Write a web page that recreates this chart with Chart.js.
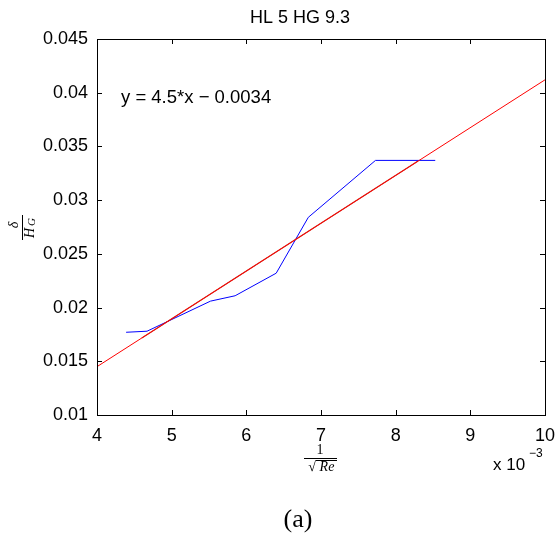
<!DOCTYPE html>
<html>
<head>
<meta charset="utf-8">
<script src="https://cdn.jsdelivr.net/npm/chart.js@4"></script>
<style>
  html, body { margin: 0; padding: 0; background: #fff; }
  #wrap { width: 558px; height: 542px; }
</style>
</head>
<body>
<div id="wrap"><canvas id="chart" width="558" height="542"></canvas></div>
<script>
// ---- data (x in units of 1e-3) ----
const measX = [4.39, 4.67, 5.52, 5.85, 6.40, 6.83, 7.73, 8.53];
const measY = [0.0177, 0.0178, 0.0206, 0.0211, 0.0232, 0.0284, 0.0337, 0.0337];
const fitX = [4, 10];
const fitY = [0.0145, 0.0412];
const fitDarkX = [4.6, 8.3];
const fitDarkY = [0.01717, 0.03364];
const xTicks = ['4', '5', '6', '7', '8', '9', '10'];
const yTicks = ['0.01', '0.015', '0.02', '0.025', '0.03', '0.035', '0.04', '0.045'];

const FONT = '"Liberation Sans", Arial, Helvetica, sans-serif';
const SERIF = '"Liberation Serif", "DejaVu Serif", serif';

const pts = (xs, ys) => xs.map((x, i) => ({ x, y: ys[i] }));

const frame = {
  id: 'frame',
  afterDraw(chart) {
    const { ctx, chartArea: a, scales: { x, y } } = chart;
    ctx.save();
    ctx.strokeStyle = '#000';
    ctx.lineWidth = 1;
    ctx.strokeRect(Math.round(a.left) + 0.5, Math.round(a.top) + 0.5,
                   Math.round(a.right - a.left), Math.round(a.bottom - a.top));
    // inward ticks on all four sides
    const L = 5;
    ctx.beginPath();
    x.ticks.forEach(t => {
      const p = Math.round(x.getPixelForValue(t.value)) + 0.5;
      ctx.moveTo(p, a.bottom); ctx.lineTo(p, a.bottom - L);
      ctx.moveTo(p, a.top); ctx.lineTo(p, a.top + L);
    });
    y.ticks.forEach(t => {
      const p = Math.round(y.getPixelForValue(t.value)) + 0.5;
      ctx.moveTo(a.left, p); ctx.lineTo(a.left + L, p);
      ctx.moveTo(a.right, p); ctx.lineTo(a.right - L, p);
    });
    ctx.stroke();

    ctx.fillStyle = '#000';
    ctx.textBaseline = 'middle';
    // title
    ctx.font = '18px ' + FONT;
    ctx.textAlign = 'center';
    ctx.fillText('HL 5 HG 9.3', 300, 18);
    // fit annotation
    ctx.textAlign = 'left';
    ctx.font = '18.5px ' + FONT;
    ctx.fillText('y = 4.5*x \u2212 0.0034', 121, 98);
    // exponent
    ctx.font = '17px ' + FONT;
    ctx.fillText('x 10', 493, 465);
    ctx.font = '12px ' + FONT;
    ctx.fillText('\u22123', 529, 454);

    // x label: 1 / sqrt(Re)
    ctx.textAlign = 'center';
    ctx.font = '14px ' + SERIF;
    ctx.fillText('1', 320, 450);
    ctx.fillRect(304, 458, 33, 1);
    ctx.font = 'italic 14px ' + SERIF;
    ctx.fillText('Re', 327, 467);
    ctx.font = '14px ' + SERIF;
    ctx.fillText('\u221A', 312, 467);
    ctx.fillRect(316, 460, 21, 1);

    // y label: delta / H_G (rotated)
    ctx.save();
    ctx.translate(22, 228);
    ctx.rotate(-Math.PI / 2);
    ctx.font = 'italic 14px ' + SERIF;
    ctx.fillText('\u03B4', 3, -8);
    ctx.fillRect(-12, 0, 25, 1);
    ctx.fillText('H', -5, 8);
    ctx.font = 'italic 11px ' + SERIF;
    ctx.fillText('G', 6, 10);
    ctx.restore();

    // panel caption
    ctx.font = '26px ' + SERIF;
    ctx.fillText('(a)', 298, 520);
    ctx.restore();
  }
};

new Chart(document.getElementById('chart'), {
  type: 'line',
  data: {
    datasets: [
      { data: pts(fitX, fitY), borderColor: '#ff0000', borderWidth: 1 },
      { data: pts(fitDarkX, fitDarkY), borderColor: 'rgba(170,30,10,0.85)', borderWidth: 1.2 },
      { data: pts(measX, measY), borderColor: '#0000ff', borderWidth: 1 },
    ],
  },
  options: {
    responsive: false,
    animation: false,
    devicePixelRatio: 1,
    elements: { point: { radius: 0 }, line: { tension: 0 } },
    layout: { padding: { top: 39, right: 13, left: 0, bottom: 0 } },
    plugins: { legend: { display: false }, tooltip: { enabled: false } },
    scales: {
      x: {
        type: 'linear', min: 4, max: 10,
        grid: { display: false, drawTicks: false },
        border: { display: false },
        ticks: {
          stepSize: 1, padding: 10, color: '#000', maxRotation: 0,
          font: { family: FONT, size: 18 },
          callback: (v, i) => xTicks[i],
        },
        afterFit: s => { s.height = 127; s.paddingLeft = 0; s.paddingRight = 0; },
      },
      y: {
        type: 'linear', min: 0.01, max: 0.045,
        grid: { display: false, drawTicks: false },
        border: { display: false },
        ticks: {
          stepSize: 0.005, padding: 9, color: '#000',
          font: { family: FONT, size: 18 },
          callback: (v, i) => yTicks[i],
        },
        afterFit: s => { s.width = 97; s.paddingTop = 0; s.paddingBottom = 0; },
      },
    },
  },
  plugins: [frame],
});
</script>
</body>
</html>
